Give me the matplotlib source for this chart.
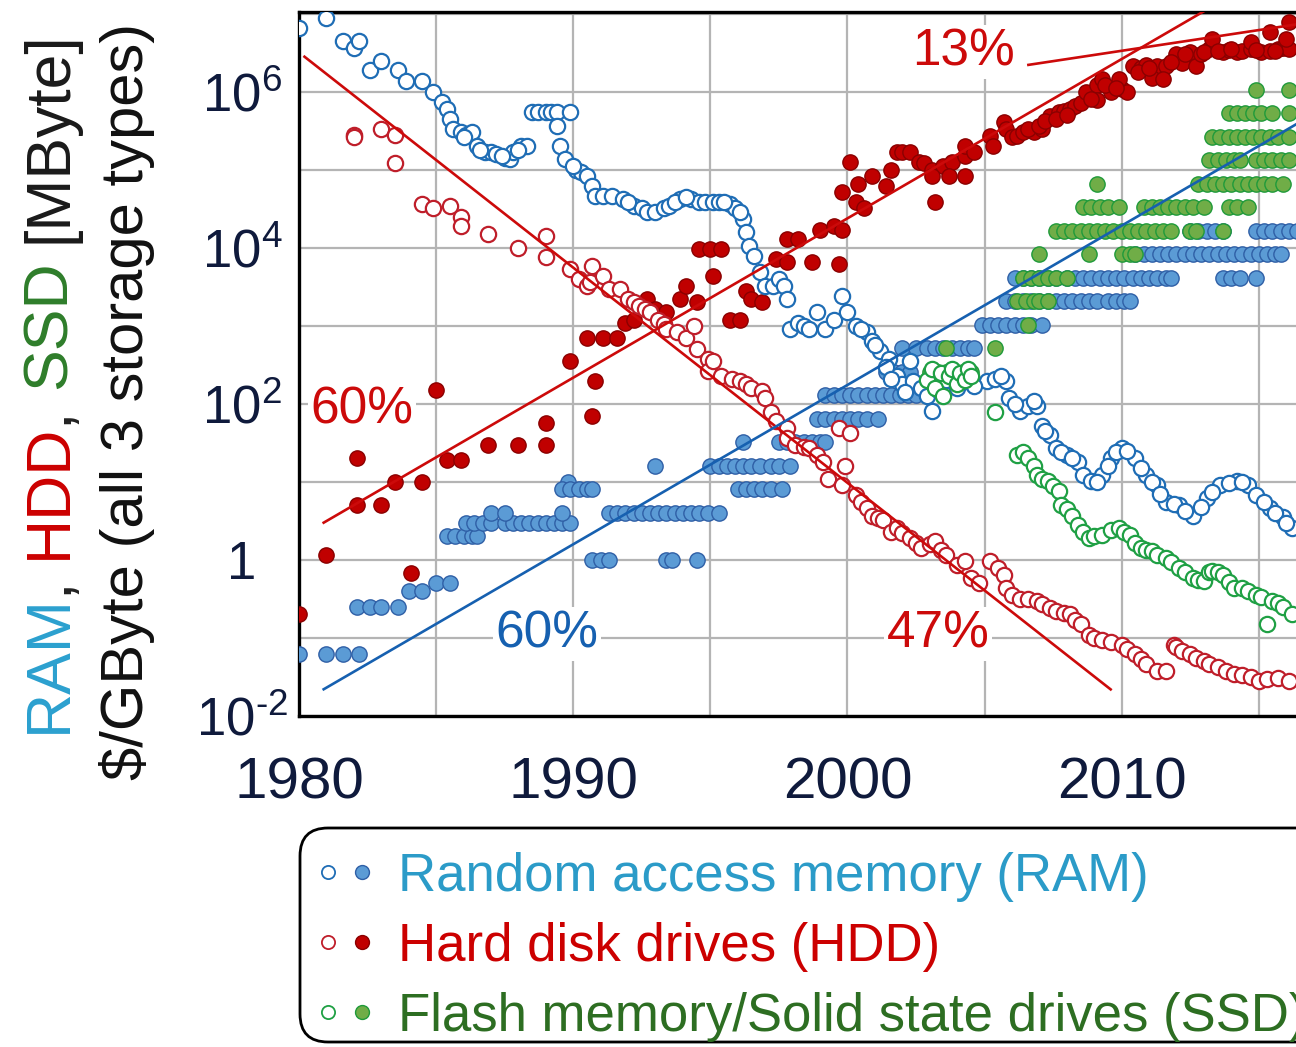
import matplotlib
matplotlib.use('Agg')
import matplotlib.pyplot as plt
from matplotlib.patches import FancyBboxPatch
from matplotlib.lines import Line2D
from matplotlib.transforms import IdentityTransform

plt.rcParams['font.family'] = ['Liberation Sans', 'DejaVu Sans']
plt.rcParams['mathtext.fontset'] = 'custom'
plt.rcParams['mathtext.rm'] = 'Liberation Sans'

# ---- RAM price ($/GByte), open blue circles
ram_price_year = [1980.0, 1981.0, 1981.6, 1982.0, 1982.2, 1982.6, 1983.0, 1983.6, 1983.9, 1984.5,
                  1984.9, 1985.2, 1985.4, 1985.5, 1985.6, 1985.9, 1986.1, 1986.3, 1986.5, 1986.8,
                  1987.0, 1987.2, 1987.5, 1987.7, 1987.8, 1988.1, 1988.3, 1988.5, 1988.7, 1989.0,
                  1989.2, 1989.4, 1989.9, 1989.4, 1989.5, 1989.7, 1990.1, 1990.3, 1990.5, 1990.7,
                  1990.8, 1991.1, 1991.4, 1991.8, 1992.2, 1992.5, 1992.7, 1993.0, 1993.3, 1993.5,
                  1993.9, 1994.3, 1994.6, 1994.8, 1995.1, 1995.3, 1995.7, 1995.9, 1996.2, 1996.3,
                  1996.4, 1996.6, 1996.8, 1997.0, 1997.3, 1997.5, 1997.7, 1997.8, 1997.9, 1998.2,
                  1998.4, 1998.6, 1998.9, 1999.2, 1999.5, 1999.8, 2000.0, 2000.3, 2000.7, 2000.9,
                  2001.2, 2001.5, 2001.8, 2002.0, 2002.3, 2002.4, 2002.7, 2003.1, 2003.5, 2003.8,
                  2004.3, 2005.1, 2005.4, 2005.8, 2005.9, 2006.3, 2006.6, 2006.9, 2007.1, 2007.4,
                  2007.6, 2008.0, 2008.4, 2008.6, 2008.9, 2009.3, 2009.6, 2010.0, 2010.5, 2010.9,
                  2011.3, 2011.6, 2012.1, 2012.6, 2013.1, 2013.6, 2014.2, 2014.6, 2014.9, 2015.4,
                  2015.9, 2016.2, 2000.5, 2001.0, 2001.4, 2001.6, 2002.1, 2002.9, 2003.3, 2003.6,
                  2004.0, 2004.6, 2005.6, 2006.1, 2006.8, 2007.2, 2007.8, 2008.2, 2009.1, 2009.5,
                  2009.8, 2010.2, 2010.7, 2011.1, 2011.4, 2011.9, 2012.3, 2012.9, 2013.3, 2013.9,
                  2014.4, 2015.2, 2015.6, 2016.0, 1986.0, 1986.6, 1987.4, 1988.0, 1990.0, 1992.0,
                  1993.7, 1994.1, 1995.5, 1996.1]
ram_price = [6.6e6, 8.9e6, 4.4e6, 3.6e6, 4.5e6, 1.9e6, 2.5e6, 1.9e6, 1.35e6, 1.35e6,
             9.8e5, 7.4e5, 5.9e5, 4.5e5, 3.3e5, 3.0e5, 2.8e5, 3.0e5, 2.0e5, 1.7e5,
             1.66e5, 1.6e5, 1.4e5, 1.35e5, 1.66e5, 2.0e5, 2.0e5, 5.4e5, 5.4e5, 5.4e5,
             5.4e5, 5.4e5, 5.4e5, 3.6e5, 2.0e5, 1.35e5, 1.0e5, 9.3e4, 8.3e4, 6.2e4,
             4.6e4, 4.6e4, 4.6e4, 4.2e4, 3.4e4, 3.2e4, 2.9e4, 2.9e4, 3.2e4, 3.4e4,
             4.2e4, 4.2e4, 3.8e4, 3.8e4, 3.8e4, 3.8e4, 3.6e4, 3.2e4, 2.3e4, 1.6e4,
             1.05e4, 7.9e3, 4.9e3, 3.2e3, 3.2e3, 4.0e3, 3.2e3, 2.2e3, 910, 1100,
             1000, 910, 1500, 910, 1200, 2400, 1500, 1000, 830, 630,
             470, 380, 230, 180, 350, 195, 160, 80, 160, 175,
             195, 195, 210, 195, 117, 80, 95, 95, 52, 40,
             27, 22, 18, 12.3, 10.2, 12.3, 20, 27, 20, 12.3,
             9.1, 5.6, 5.0, 3.7, 6.2, 9.1, 10.2, 9.1, 6.8, 4.6,
             3.5, 2.6, 900, 560, 300, 210, 140, 125, 150, 200,
             160, 170, 230, 100, 110, 45, 24, 20, 10, 16,
             24, 25, 15, 10, 7.0, 5.2, 4.2, 4.8, 7.5, 9.6,
             10, 5.5, 4.0, 3.0, 2.6e5, 1.8e5, 1.5e5, 1.8e5, 1.1e5, 3.8e4,
             3.8e4, 4.4e4, 3.8e4, 2.9e4]

# ---- HDD price ($/GByte), open red circles
hdd_price_year = [1982.0, 1982.0, 1983.0, 1983.5, 1983.5, 1984.5, 1984.9, 1985.5, 1985.9, 1985.9,
                  1986.9, 1988.0, 1989.0, 1989.0, 1989.9, 1990.2, 1990.5, 1990.6, 1990.7, 1991.1,
                  1991.3, 1991.7, 1992.0, 1992.2, 1992.4, 1992.6, 1992.8, 1993.1, 1993.3, 1993.4,
                  1993.8, 1994.1, 1994.4, 1994.5, 1994.9, 1994.9, 1995.1, 1995.4, 1995.8, 1996.1,
                  1996.3, 1996.5, 1996.9, 1997.0, 1997.2, 1997.4, 1997.8, 1997.8, 1998.1, 1998.4,
                  1998.6, 1998.9, 1999.1, 1999.3, 1999.7, 2000.1, 1999.9, 1999.8, 2000.3, 2000.5,
                  2000.7, 2000.9, 2001.1, 2001.3, 2001.6, 2001.8, 2002.0, 2002.3, 2002.5, 2002.7,
                  2003.0, 2003.2, 2003.4, 2003.6, 2004.0, 2004.3, 2004.5, 2004.8, 2005.2, 2005.5,
                  2005.7, 2005.8, 2006.0, 2006.3, 2006.6, 2006.9, 2007.1, 2007.4, 2007.6, 2007.9,
                  2008.1, 2008.3, 2008.5, 2008.8, 2009.0, 2009.3, 2009.6, 2010.0, 2010.2, 2010.5,
                  2010.7, 2010.9, 2011.3, 2011.6, 2011.9, 2012.0, 2012.2, 2012.5, 2012.7, 2013.0,
                  2013.2, 2013.5, 2013.8, 2014.1, 2014.4, 2014.7, 2015.0, 2015.3, 2015.7, 2016.1]
hdd_price = [2.8e5, 2.6e5, 3.3e5, 2.8e5, 1.2e5, 3.6e4, 3.2e4, 3.4e4, 2.5e4, 1.9e4,
             1.5e4, 1.0e4, 1.4e4, 7.6e3, 5.4e3, 4.0e3, 3.2e3, 3.6e3, 5.9e3, 4.4e3,
             3.0e3, 3.0e3, 2.2e3, 2.0e3, 1.8e3, 1.66e3, 1.5e3, 1.2e3, 1.05e3, 910,
             830, 690, 980, 510, 380, 260, 350, 230, 210, 195,
             178, 160, 145, 117, 79, 60, 49, 36, 30, 28,
             27, 22, 18, 11, 49, 42, 16, 9.1, 6.8, 5.6,
             4.6, 3.7, 3.4, 3.2, 2.3, 2.6, 2.2, 1.9, 1.66, 1.4,
             1.6, 1.74, 1.32, 1.15, 0.87, 0.98, 0.59, 0.50, 0.98, 0.79,
             0.65, 0.44, 0.35, 0.32, 0.32, 0.30, 0.27, 0.24, 0.22, 0.21,
             0.20, 0.17, 0.15, 0.11, 0.10, 0.093, 0.089, 0.081, 0.072, 0.062,
             0.054, 0.046, 0.038, 0.038, 0.081, 0.076, 0.069, 0.063, 0.056, 0.050,
             0.046, 0.042, 0.038, 0.035, 0.034, 0.032, 0.028, 0.030, 0.031, 0.028]

# ---- SSD price ($/GByte), open green circles
ssd_price_year = [2002.9, 2003.1, 2003.2, 2003.4, 2003.5, 2003.7, 2003.8, 2004.0, 2004.1, 2004.3,
                  2004.4, 2004.5, 2005.4, 2006.2, 2006.4, 2006.6, 2006.8, 2006.9, 2007.1, 2007.3,
                  2007.5, 2007.7, 2007.8, 2008.0, 2008.2, 2008.4, 2008.6, 2008.8, 2009.0, 2009.3,
                  2009.6, 2009.9, 2010.1, 2010.3, 2010.5, 2010.7, 2010.9, 2011.1, 2011.3, 2011.6,
                  2011.8, 2012.1, 2012.3, 2012.6, 2012.8, 2013.0, 2013.2, 2013.3, 2013.5, 2013.7,
                  2013.9, 2014.1, 2014.4, 2014.6, 2014.9, 2015.1, 2015.3, 2015.5, 2015.7, 2015.9,
                  2016.2]
ssd_price = [200, 280, 160, 250, 126, 224, 280, 178, 250, 200,
             280, 224, 79, 22, 24, 20, 16, 12.3, 11, 10.2,
             8.9, 7.6, 5.0, 4.5, 3.7, 2.8, 2.3, 1.9, 2.0, 2.1,
             2.4, 2.6, 2.3, 2.1, 1.66, 1.4, 1.32, 1.29, 1.15, 1.07,
             0.93, 0.79, 0.69, 0.59, 0.56, 0.54, 0.71, 0.72, 0.69, 0.65,
             0.52, 0.44, 0.44, 0.40, 0.35, 0.33, 0.15, 0.30, 0.28, 0.25,
             0.20]

# ---- RAM module size (MByte), filled blue circles
ram_size_year = [1980.0, 1981.0, 1981.6, 1982.2, 1982.1, 1982.6, 1983.0, 1983.6, 1984.0, 1984.5,
                 1985.0, 1985.5, 1985.4, 1985.7, 1986.0, 1986.3, 1986.5, 1986.1, 1986.4, 1986.7,
                 1987.0, 1987.5, 1987.8, 1988.1, 1988.4, 1988.7, 1989.0, 1989.3, 1989.6, 1989.9,
                 1987.0, 1987.5, 1989.6, 1989.8, 1989.6, 1989.9, 1990.2, 1990.5, 1990.7, 1990.7,
                 1991.0, 1991.3, 1993.4, 1993.6, 1994.5, 1991.3, 1991.6, 1991.9, 1992.2, 1992.5,
                 1992.8, 1993.1, 1993.4, 1993.7, 1994.0, 1994.3, 1994.6, 1994.9, 1995.3, 1993.0,
                 1995.0, 1995.3, 1995.6, 1995.9, 1996.2, 1996.5, 1996.8, 1997.2, 1997.5, 1997.9,
                 1996.0, 1996.3, 1996.6, 1996.9, 1997.2, 1997.6, 1996.2, 1997.5, 1997.8, 1998.1,
                 1998.4, 1998.7, 1999.0, 1999.2, 1998.9, 1999.2, 1999.5, 1999.8, 2000.1, 2000.4,
                 2000.7, 2001.1, 1999.2, 1999.5, 1999.8, 2000.1, 2000.4, 2000.7, 2001.0, 2001.3,
                 2001.6, 2001.9, 2002.2, 2002.5, 2002.9, 2001.4, 2001.7, 2002.0, 2002.3, 2002.0,
                 2002.5, 2002.9, 2003.2, 2003.5, 2003.8, 2004.1, 2004.4, 2004.6, 2004.9, 2005.2,
                 2005.5, 2005.8, 2006.1, 2006.4, 2006.7, 2007.1, 2005.8, 2006.1, 2006.4, 2006.7,
                 2007.0, 2007.3, 2007.6, 2007.9, 2008.2, 2008.5, 2008.8, 2009.1, 2009.5, 2009.8,
                 2010.1, 2010.3, 2006.1, 2006.4, 2006.7, 2007.0, 2007.3, 2007.6, 2008.0, 2008.3,
                 2008.6, 2008.9, 2009.2, 2009.5, 2009.8, 2010.1, 2010.4, 2010.7, 2011.0, 2011.3,
                 2011.6, 2011.8, 2013.7, 2014.0, 2014.3, 2014.9, 2010.5, 2010.8, 2011.1, 2011.4,
                 2011.7, 2012.0, 2012.3, 2012.6, 2012.9, 2013.2, 2013.5, 2013.8, 2014.1, 2014.4,
                 2014.7, 2015.0, 2015.3, 2015.6, 2015.8, 2012.5, 2012.8, 2013.1, 2013.4, 2013.7,
                 2014.9, 2015.2, 2015.5, 2015.8, 2016.1, 2016.4]
ram_size = [0.0625, 0.0625, 0.0625, 0.0625, 0.25, 0.25, 0.25, 0.25, 0.4, 0.4,
            0.5, 0.5, 2, 2, 2, 2, 2, 3, 3, 3,
            3, 3, 3, 3, 3, 3, 3, 3, 3, 3,
            4, 4, 4, 10, 8, 8, 8, 8, 8, 1,
            1, 1, 1, 1, 1, 4, 4, 4, 4, 4,
            4, 4, 4, 4, 4, 4, 4, 4, 4, 16,
            16, 16, 16, 16, 16, 16, 16, 16, 16, 16,
            8, 8, 8, 8, 8, 8, 32, 32, 32, 32,
            32, 32, 32, 32, 64, 64, 64, 64, 64, 64,
            64, 64, 128, 128, 128, 128, 128, 128, 128, 128,
            128, 128, 128, 128, 128, 256, 256, 256, 256, 512,
            512, 512, 512, 512, 512, 512, 512, 512, 1024, 1024,
            1024, 1024, 1024, 1024, 1024, 1024, 2048, 2048, 2048, 2048,
            2048, 2048, 2048, 2048, 2048, 2048, 2048, 2048, 2048, 2048,
            2048, 2048, 4096, 4096, 4096, 4096, 4096, 4096, 4096, 4096,
            4096, 4096, 4096, 4096, 4096, 4096, 4096, 4096, 4096, 4096,
            4096, 4096, 4096, 4096, 4096, 4096, 8192, 8192, 8192, 8192,
            8192, 8192, 8192, 8192, 8192, 8192, 8192, 8192, 8192, 8192,
            8192, 8192, 8192, 8192, 8192, 16384, 16384, 16384, 16384, 16384,
            16384, 16384, 16384, 16384, 16384, 16384]

# ---- HDD capacity (MByte), filled red circles
hdd_size_year = [1980.0, 1981.0, 1982.1, 1982.1, 1983.0, 1983.5, 1984.1, 1984.5, 1985.0, 1985.4,
                 1985.9, 1986.9, 1988.0, 1989.0, 1989.0, 1989.9, 1990.7, 1990.8, 1990.5, 1991.1,
                 1991.6, 1991.9, 1992.2, 1992.7, 1993.0, 1993.4, 1993.9, 1994.1, 1994.5, 1995.1,
                 1994.6, 1995.0, 1995.4, 1995.7, 1996.1, 1996.3, 1996.5, 1996.9, 1997.4, 1997.8,
                 1997.8, 1998.2, 1998.7, 1999.0, 1999.5, 1999.8, 1999.7, 1999.8, 2000.3, 2000.1,
                 2000.4, 2000.6, 2000.9, 2001.4, 2001.6, 2001.8, 2002.0, 2002.3, 2002.6, 2002.8,
                 2003.1, 2003.5, 2003.8, 2004.3, 2003.1, 2003.7, 2004.3, 2003.2, 2004.3, 2004.6,
                 2005.2, 2005.3, 2005.7, 2005.8, 2006.0, 2006.2, 2006.4, 2006.8, 2007.1, 2007.4,
                 2007.7, 2007.9, 2008.1, 2008.3, 2008.5, 2008.7, 2009.1, 2009.3, 2009.1, 2009.6,
                 2010.0, 2010.2, 2009.9, 2010.4, 2010.7, 2010.9, 2011.3, 2011.6, 2011.1, 2011.5,
                 2012.0, 2012.5, 2012.2, 2012.7, 2012.9, 2013.2, 2013.7, 2013.9, 2014.2, 2014.4,
                 2014.7, 2015.1, 2015.4, 2015.7, 2015.9, 2016.1, 2013.3, 2014.7, 2015.4, 2016.1,
                 2016.0, 2006.6, 2007.0, 2007.2, 2007.6, 2008.0, 2008.9, 2009.4, 2009.8, 2010.6,
                 2011.0, 2011.8, 2012.3, 2013.0, 2013.5, 2014.0, 2014.9, 2015.6]
hdd_size = [0.2, 1.15, 5, 20, 5, 10, 0.68, 10, 150, 19,
            19, 30, 30, 30, 56, 350, 69, 195, 690, 690,
            690, 1100, 1200, 2200, 1650, 1500, 2200, 3200, 2000, 4300,
            9500, 9500, 9500, 1200, 1200, 2750, 2200, 2000, 7200, 6600,
            13000, 13000, 6600, 17000, 19000, 17000, 6200, 51000, 38000, 126000,
            65000, 32000, 83000, 62000, 100000, 166000, 166000, 166000, 126000, 120000,
            100000, 110000, 126000, 148000, 83000, 83000, 83000, 38000, 200000, 166000,
            270000, 200000, 410000, 330000, 260000, 270000, 300000, 300000, 330000, 480000,
            540000, 560000, 590000, 650000, 720000, 980000, 1.2e6, 1.45e6, 790000, 980000,
            1.07e6, 980000, 1.45e6, 2.1e6, 2.0e6, 2.2e6, 2.1e6, 2.1e6, 1.5e6, 1.45e6,
            3.0e6, 3.2e6, 2.3e6, 2.1e6, 3.0e6, 3.5e6, 3.2e6, 3.4e6, 3.2e6, 3.3e6,
            3.5e6, 3.2e6, 3.3e6, 3.5e6, 3.6e6, 3.5e6, 4.7e6, 4.3e6, 5.75e6, 7.9e6,
            4.7e6, 330000, 360000, 420000, 450000, 500000, 800000, 1.2e6, 1.1e6, 1.8e6,
            2.0e6, 2.4e6, 3.0e6, 3.2e6, 3.3e6, 3.5e6, 3.4e6, 3.3e6]

# ---- SSD capacity (MByte), filled green circles
ssd_size_year = [2003.0, 2003.3, 2003.6, 2003.9, 2004.2, 2004.5, 2003.6, 2005.4, 2006.6, 2006.2,
                 2006.5, 2006.8, 2007.0, 2007.3, 2006.4, 2006.7, 2007.0, 2007.3, 2007.6, 2008.0,
                 2007.0, 2008.8, 2010.0, 2010.3, 2010.5, 2007.6, 2007.9, 2008.2, 2008.5, 2008.8,
                 2009.1, 2009.4, 2009.7, 2010.0, 2010.3, 2010.6, 2010.9, 2011.2, 2011.5, 2011.8,
                 2012.5, 2012.7, 2013.7, 2008.6, 2008.9, 2009.2, 2009.5, 2009.9, 2010.8, 2011.1,
                 2011.4, 2011.7, 2012.0, 2012.3, 2012.6, 2013.0, 2013.9, 2014.2, 2014.6, 2009.1,
                 2012.8, 2013.1, 2013.4, 2013.7, 2014.0, 2014.3, 2014.6, 2014.9, 2015.2, 2015.5,
                 2015.9, 2013.2, 2013.5, 2013.8, 2014.1, 2014.3, 2014.9, 2015.2, 2015.5, 2015.8,
                 2016.1, 2013.3, 2013.6, 2013.9, 2014.2, 2014.5, 2014.8, 2015.1, 2015.4, 2015.7,
                 2016.1, 2013.9, 2014.2, 2014.5, 2014.8, 2015.1, 2015.5, 2016.1, 2014.9, 2016.1]
ssd_size = [256, 256, 256, 256, 256, 256, 512, 512, 1024, 2048,
            2048, 2048, 2048, 2048, 4096, 4096, 4096, 4096, 4096, 4096,
            8192, 8192, 8192, 8192, 8192, 16384, 16384, 16384, 16384, 16384,
            16384, 16384, 16384, 16384, 16384, 16384, 16384, 16384, 16384, 16384,
            16384, 16384, 16384, 32768, 32768, 32768, 32768, 32768, 32768, 32768,
            32768, 32768, 32768, 32768, 32768, 32768, 32768, 32768, 32768, 65536,
            65536, 65536, 65536, 65536, 65536, 65536, 65536, 65536, 65536, 65536,
            65536, 131072, 131072, 131072, 131072, 131072, 131072, 131072, 131072, 131072,
            131072, 262144, 262144, 262144, 262144, 262144, 262144, 262144, 262144, 262144,
            262144, 524288, 524288, 524288, 524288, 524288, 524288, 524288, 1048576, 1048576]

# ---- exponential trend lines: start year, start value, yearly rate, end year, label
trend_start = [1980.2, 1980.9, 1980.9, 2006.6]
trend_value = [2.8e6, 3.0, 0.022, 2.2e6]
trend_rate = [-0.47, 0.60, 0.60, 0.13]
trend_end = [2009.6, 2013.5, 2018.0, 2018.0]
trend_color = ['#cc0a0a', '#cc0a0a', '#1660b0', '#cc0a0a']
trend_labels = ['47%', '60%', '60%', '13%']
label_year = [2003.3, 1982.3, 1989.05, 2004.25]
label_value = [0.112, 83, 0.112, 3.2e6]

x_ticks = [1980, 1990, 2000, 2010]
y_ticks = [1e-2, 1, 1e2, 1e4, 1e6]
y_tick_labels = [r'$\mathregular{10^{\text{-}2}}$', '1', r'$\mathregular{10^{2}}$',
                 r'$\mathregular{10^{4}}$', r'$\mathregular{10^{6}}$']

W, H = 1296, 1047
fig = plt.figure(figsize=(W / 100, H / 100), dpi=100)
ax = fig.add_axes([299 / W, 1 - 716 / H, (1341 - 299) / W, (716 - 12) / H])
ax.set_yscale('log')
ax.set_xlim(1980, 2018)
ax.set_ylim(1e-2, 10 ** 7.02)

ms = 11
ax.plot(ram_size_year, ram_size, 'o', ms=ms, mfc='#5b9bd5', mec='#2f5fa6', mew=1.0, zorder=3)
ax.plot(ssd_size_year, ssd_size, 'o', ms=ms, mfc='#70ad47', mec='#1f9a3a', mew=1.0, zorder=3)
ax.plot(hdd_size_year, hdd_size, 'o', ms=ms, mfc='#c00000', mec='#8a0000', mew=1.0, zorder=3)
ax.plot(hdd_price_year, hdd_price, 'o', ms=ms, mfc='white', mec='#bf1e2a', mew=1.6, zorder=4)
ax.plot(ram_price_year, ram_price, 'o', ms=ms, mfc='white', mec='#1f6db5', mew=1.6, zorder=4)
ax.plot(ssd_price_year, ssd_price, 'o', ms=ms, mfc='white', mec='#1fa044', mew=1.6, zorder=4)

for t0, v0, r, t1, c in zip(trend_start, trend_value, trend_rate, trend_end, trend_color):
    ax.plot([t0, t1], [v0, v0 * (1 + r) ** (t1 - t0)], '-', color=c, lw=1.9, zorder=5)

for lab, ty, tv, c in zip(trend_labels, label_year, label_value, trend_color):
    ax.text(ty, tv, lab, color=c, fontsize=37, ha='center', va='center', zorder=6,
            bbox=dict(boxstyle='square,pad=0.05', fc='white', ec='none'))

# grid every 5 years and every decade
ax.set_xticks(x_ticks)
ax.set_xticks([1985, 1995, 2005, 2015], minor=True)
ax.set_yticks(y_ticks)
ax.set_yticklabels(y_tick_labels)
ax.set_yticks([1e-1, 10, 1e3, 1e5, 1e7], minor=True)
ax.yaxis.set_minor_formatter(plt.NullFormatter())
ax.grid(True, which='both', color='#b4b4b4', lw=1.6, zorder=0)
ax.set_axisbelow(True)
ax.tick_params(which='both', length=0)
ax.tick_params(axis='x', labelsize=42, labelcolor='#0f1a3c', pad=29)
ax.tick_params(axis='y', labelsize=38, labelcolor='#0f1a3c', pad=41)
for lab in ax.get_yticklabels():
    lab.set_horizontalalignment('center')
for side in ['left', 'bottom', 'top']:
    ax.spines[side].set_linewidth(2.4)
    ax.spines[side].set_color('black')

# two-line axis title, first line coloured word by word
renderer = fig.canvas.get_renderer()


def advance(s, size):
    t1 = fig.text(0, 0, '|' + s + '|', fontsize=size)
    t2 = fig.text(0, 0, '||', fontsize=size)
    w = t1.get_window_extent(renderer).width - t2.get_window_extent(renderer).width
    t1.remove()
    t2.remove()
    return w


title_size = 45
pieces = [('RAM', '', '#2ba0cf'), (',', 'RAM', '#222222'), ('HDD', 'RAM, ', '#cc0000'),
          (',', 'RAM, HDD', '#222222'), ('SSD', 'RAM, HDD, ', '#2e7d2a'),
          ('[MByte]', 'RAM, HDD, SSD ', '#1a1a1a')]
for txt, prefix, col in pieces:
    off = advance(prefix, title_size) if prefix else 0
    fig.text(66 / W, (H - 733 + off) / H, txt, fontsize=title_size, color=col,
             rotation=90, rotation_mode='anchor', ha='left', va='baseline')
fig.text(143 / W, 1 - 401 / H, '$/GByte (all 3 storage types)', fontsize=43, color='#111111',
         rotation=90, rotation_mode='anchor', ha='center', va='baseline')

# legend box below the plot
px = IdentityTransform()
box = FancyBboxPatch((300, H - 1042), 1100, 1042 - 828, boxstyle='round,pad=0,rounding_size=28',
                     fc='white', ec='black', lw=2.0, transform=px)
fig.add_artist(box)
legend_rows = [('Random access memory (RAM)', '#2b9bc8', '#1f6db5', '#5b9bd5', '#2f5fa6', 872),
               ('Hard disk drives (HDD)', '#cc0000', '#bf1e2a', '#c00000', '#8a0000', 942),
               ('Flash memory/Solid state drives (SSD)', '#2d6e22', '#1fa044', '#70ad47', '#1f9a3a', 1012)]
for txt, tc, ring, face, edge, yy in legend_rows:
    fig.add_artist(Line2D([328], [H - yy], marker='o', ms=9.5, mfc='white', mec=ring, mew=1.3,
                          transform=px))
    fig.add_artist(Line2D([362], [H - yy], marker='o', ms=10, mfc=face, mec=edge, mew=1.0,
                          transform=px))
    fig.text(398 / W, 1 - (yy + 19) / H, txt, fontsize=38, color=tc, ha='left', va='baseline')

fig.savefig('out.png', dpi=100)
